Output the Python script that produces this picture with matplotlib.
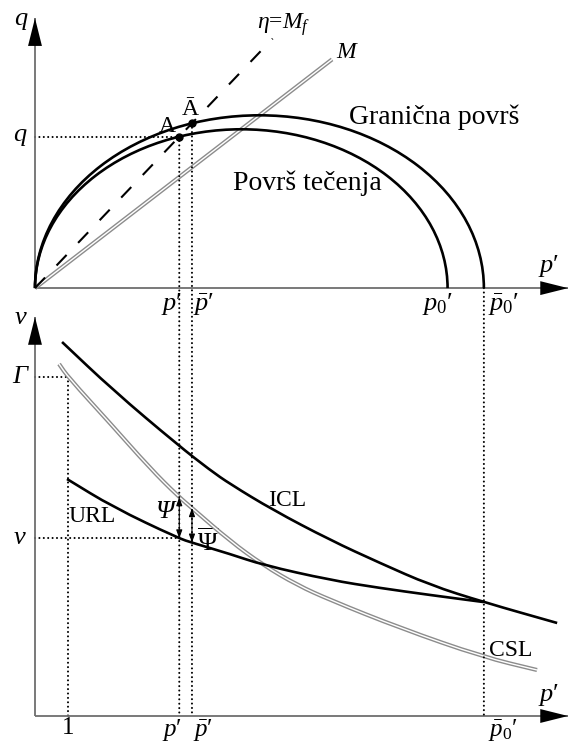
import matplotlib
matplotlib.use("Agg")
import matplotlib.pyplot as plt
import numpy as np
from matplotlib.patches import Arc, ConnectionPatch, PathPatch
from matplotlib.path import Path

plt.rcParams["font.family"] = ["Liberation Serif", "DejaVu Serif"]
plt.rcParams["mathtext.fontset"] = "custom"
plt.rcParams["mathtext.rm"] = "Liberation Serif"
plt.rcParams["mathtext.it"] = "Liberation Serif:italic"
plt.rcParams["mathtext.bf"] = "Liberation Serif:bold"

# q - p' plane (Modified Cam-clay surfaces)
p0 = 12.5        # yield surface
p0_bar = 13.6    # bounding surface
M = 0.77         # critical state line slope
eta_f = 1.05     # stress ratio of the current state
M_end = 9.0
eta_end = 7.2

# v - p' plane
icl_p = [0.82, 2.36, 4.33, 5.30, 5.91, 7.21, 8.94, 10.45, 11.97, 13.58, 15.82]
icl_v = [3.37, 3.13, 2.855, 2.73, 2.66, 2.53, 2.38, 2.265, 2.155, 2.07, 1.965]

csl_p = [0.73, 1.00, 2.27, 3.48, 4.33, 4.79, 5.91, 6.91, 7.94, 8.94, 11.06, 13.58, 15.21]
csl_v = [3.26, 3.195, 2.965, 2.74, 2.60, 2.535, 2.375, 2.255, 2.155, 2.08, 1.94, 1.795, 1.73]

url_p = [0.97, 2.36, 4.33, 4.79, 5.91, 6.91, 8.94, 10.45, 11.97, 13.58]
url_v = [2.685, 2.545, 2.39, 2.365, 2.31, 2.255, 2.18, 2.14, 2.105, 2.07]

v_base = 1.5

# current state on both surfaces along eta = eta_f
p_a = M**2 * p0 / (M**2 + eta_f**2)
q_a = eta_f * p_a
p_ab = M**2 * p0_bar / (M**2 + eta_f**2)
q_ab = eta_f * p_ab
gamma = np.interp(1.0, csl_p, csl_v)
v_a = np.interp(p_a, url_p, url_v)

DOT = dict(color="black", lw=1.5, linestyle=(0, (0.01, 2.1)))
GRAY_AX = "#6e6e6e"
BIG = 19
MID = 17


def dotted(ax, x, y):
    ax.plot(x, y, **DOT, dash_capstyle="round", zorder=1)


def axis_arrow(ax, start, tip):
    ax.plot([start[0], tip[0]], [start[1], tip[1]], color=GRAY_AX, lw=1.3,
            solid_capstyle="butt", zorder=2)
    ax.annotate("", xy=tip, xytext=start,
                arrowprops=dict(arrowstyle="-|>,head_length=2.0,head_width=0.5",
                                color="black", lw=0, shrinkA=0, shrinkB=0,
                                mutation_scale=10), zorder=3)


def smooth_path(px, py):
    # quadratic B-spline through the midpoints of the polyline
    pts = np.column_stack([px, py])
    verts = [pts[0], (pts[0] + pts[1]) / 2]
    codes = [Path.MOVETO, Path.LINETO]
    for i in range(1, len(pts) - 1):
        verts += [pts[i], (pts[i] + pts[i + 1]) / 2]
        codes += [Path.CURVE3, Path.CURVE3]
    verts.append(pts[-1])
    codes.append(Path.LINETO)
    return Path(verts, codes)


def curve(ax, px, py, color="black", lw=1.9, z=5):
    ax.add_patch(PathPatch(smooth_path(px, py), fill=False, edgecolor=color,
                           lw=lw, capstyle="butt", zorder=z))


def double_line(ax, x, y, smooth=False):
    if smooth:
        curve(ax, x, y, color="#8c8c8c", lw=3.0, z=4)
        curve(ax, x, y, color="white", lw=1.0, z=4)
    else:
        ax.plot(x, y, color="#8c8c8c", lw=3.0, solid_capstyle="butt", zorder=4)
        ax.plot(x, y, color="white", lw=1.0, solid_capstyle="butt", zorder=4)


fig = plt.figure(figsize=(5.73, 7.48), dpi=100)
fig.patch.set_facecolor("white")
ax_top = fig.add_axes([0, 1 - 300 / 748, 1, 300 / 748])
ax_bot = fig.add_axes([0, 0, 1, 448 / 748])
for ax in (ax_top, ax_bot):
    ax.set_xlim(-1.06, 16.30)
    ax.axis("off")
ax_top.set_ylim(-0.36, 8.73)
ax_bot.set_ylim(1.34, 3.58)

# ---- top: q - p'
axis_arrow(ax_top, (0, 0), (0, 8.18))
axis_arrow(ax_top, (0, 0), (16.15, 0))

for size in (p0, p0_bar):
    ax_top.add_patch(Arc((size / 2, 0), size, M * size, theta1=0, theta2=180,
                         color="black", lw=1.9, zorder=5))

double_line(ax_top, [0, M_end], [0, M * M_end])
ax_top.plot([0, eta_end], [0, eta_f * eta_end], color="black", lw=1.5,
            dashes=(7, 8), zorder=4)

dotted(ax_top, [0, p_a], [q_a, q_a])
ax_top.plot([p_a, p_ab], [q_a, q_ab], "o", color="black", ms=5, zorder=6)

for pp, qq in ((p_a, q_a), (p_ab, q_ab), (p0_bar, 0)):
    con = ConnectionPatch(xyA=(pp, qq), coordsA=ax_top.transData,
                          xyB=(pp, v_base), coordsB=ax_bot.transData, **DOT,
                          capstyle="round", zorder=1)
    fig.add_artist(con)

ax_top.text(-0.42, 8.09, "$q$", fontsize=BIG, ha="center", va="center")
ax_top.text(15.55, 0.67, "$p$′", fontsize=BIG, ha="center", va="center")
ax_top.text(-0.45, q_a, "$q$", fontsize=BIG, ha="center", va="center")
ax_top.text(7.52, 7.97, r"$\eta$=$M_f$", fontsize=MID, ha="center", va="center")
ax_top.text(9.48, 7.15, "$M$", fontsize=MID, ha="center", va="center")
ax_top.text(12.09, 5.18, "Granična površ", fontsize=20, ha="center", va="center")
ax_top.text(8.24, 3.18, "Površ tečenja", fontsize=20, ha="center", va="center")
ax_top.annotate("A", (p_a, q_a), xytext=(-9, 7), textcoords="offset points",
                fontsize=MID, ha="center", va="center")
ax_top.annotate("Ā", (p_ab, q_ab), xytext=(-1.5, 10), textcoords="offset points",
                fontsize=MID, ha="center", va="center")

tick_top = [(p_a, "$p$′", "right", 2), (p_ab, r"$\bar{p}$′", "left", 1),
            (p0, r"$p_0$′", "right", 4), (p0_bar, r"$\bar{p}_0$′", "left", 3)]
for pp, lab, ha, dx in tick_top:
    ax_top.annotate(lab, (pp, 0), xytext=(dx, -2), textcoords="offset points",
                    fontsize=BIG, ha=ha, va="top")

# ---- bottom: v - p'
axis_arrow(ax_bot, (0, v_base), (0, 3.495))
axis_arrow(ax_bot, (0, v_base), (16.15, v_base))

curve(ax_bot, icl_p, icl_v)
curve(ax_bot, url_p, url_v)
double_line(ax_bot, csl_p, csl_v, smooth=True)

dotted(ax_bot, [0, 1], [gamma, gamma])
dotted(ax_bot, [1, 1], [gamma, v_base])
dotted(ax_bot, [0, p_a], [v_a, v_a])

for pp in (p_a, p_ab):
    lo = np.interp(pp, url_p, url_v)
    hi = np.interp(pp, csl_p, csl_v)
    ax_bot.annotate("", xy=(pp, hi), xytext=(pp, lo),
                    arrowprops=dict(arrowstyle="<|-|>,head_length=0.5,head_width=0.18",
                                    color="black", lw=0.8, shrinkA=0, shrinkB=0,
                                    mutation_scale=10), zorder=6)

ax_bot.text(-0.42, 3.49, "$v$", fontsize=BIG, ha="center", va="center")
ax_bot.text(-0.45, gamma, "Γ", fontsize=BIG, style="italic", ha="center", va="center")
ax_bot.text(-0.45, v_a, "$v$", fontsize=BIG, ha="center", va="center")
ax_bot.text(15.55, 1.605, "$p$′", fontsize=BIG, ha="center", va="center")
ax_bot.text(1.73, 2.495, "URL", fontsize=MID, ha="center", va="center")
ax_bot.text(7.64, 2.58, "ICL", fontsize=MID, ha="center", va="center")
ax_bot.text(14.42, 1.83, "CSL", fontsize=MID, ha="center", va="center")
ax_bot.text(p_a - 0.45, 2.52, "Ψ", fontsize=BIG, style="italic", ha="center", va="center")
ax_bot.text(5.24, 2.37, r"$\overline{\mathit{Ψ}}$", fontsize=BIG, ha="center", va="center")

tick_bot = [(1.0, "1", "center", 0), (p_a, "$p$′", "right", 2),
            (p_ab, r"$\bar{p}$′", "left", 1), (p0_bar, r"$\bar{p}_0$′", "left", 3)]
for pp, lab, ha, dx in tick_bot:
    ax_bot.annotate(lab, (pp, v_base), xytext=(dx, -1), textcoords="offset points",
                    fontsize=18, ha=ha, va="top")

fig.savefig("out.png", dpi=100, facecolor="white")
